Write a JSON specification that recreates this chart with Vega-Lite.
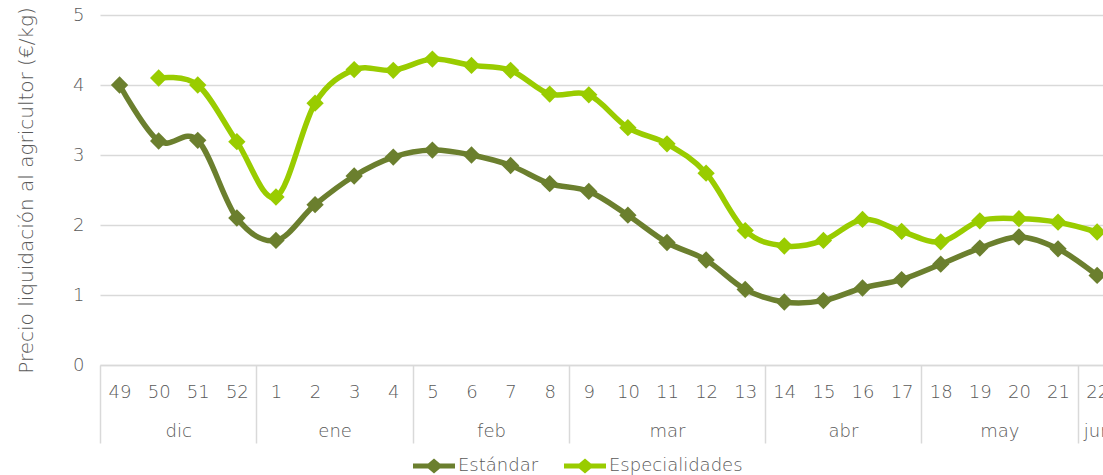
{
  "$schema": "https://vega.github.io/schema/vega-lite/v6.json",
  "autosize": {"type": "none"},
  "padding": {"left": 100, "top": 15, "right": 0, "bottom": 110},
  "width": 1003,
  "height": 350,
  "background": "white",
  "config": {
    "view": {"stroke": null},
    "font": "DejaVu Sans",
    "axis": {"labelFont": "DejaVu Sans", "titleFont": "DejaVu Sans", "labelFontWeight": 200, "titleFontWeight": 200},
    "legend": {"labelFont": "DejaVu Sans", "labelFontWeight": 200}
  },
  "data": {
    "values": [
      {"i": 0, "semana": "49", "serie": "Estándar", "precio": 4.0},
      {"i": 1, "semana": "50", "serie": "Estándar", "precio": 3.2},
      {"i": 2, "semana": "51", "serie": "Estándar", "precio": 3.21},
      {"i": 3, "semana": "52", "serie": "Estándar", "precio": 2.1},
      {"i": 4, "semana": "1", "serie": "Estándar", "precio": 1.78},
      {"i": 5, "semana": "2", "serie": "Estándar", "precio": 2.29},
      {"i": 6, "semana": "3", "serie": "Estándar", "precio": 2.7},
      {"i": 7, "semana": "4", "serie": "Estándar", "precio": 2.97},
      {"i": 8, "semana": "5", "serie": "Estándar", "precio": 3.07},
      {"i": 9, "semana": "6", "serie": "Estándar", "precio": 3.0},
      {"i": 10, "semana": "7", "serie": "Estándar", "precio": 2.85},
      {"i": 11, "semana": "8", "serie": "Estándar", "precio": 2.59},
      {"i": 12, "semana": "9", "serie": "Estándar", "precio": 2.48},
      {"i": 13, "semana": "10", "serie": "Estándar", "precio": 2.14},
      {"i": 14, "semana": "11", "serie": "Estándar", "precio": 1.75},
      {"i": 15, "semana": "12", "serie": "Estándar", "precio": 1.5},
      {"i": 16, "semana": "13", "serie": "Estándar", "precio": 1.08},
      {"i": 17, "semana": "14", "serie": "Estándar", "precio": 0.9},
      {"i": 18, "semana": "15", "serie": "Estándar", "precio": 0.92},
      {"i": 19, "semana": "16", "serie": "Estándar", "precio": 1.1},
      {"i": 20, "semana": "17", "serie": "Estándar", "precio": 1.22},
      {"i": 21, "semana": "18", "serie": "Estándar", "precio": 1.44},
      {"i": 22, "semana": "19", "serie": "Estándar", "precio": 1.67},
      {"i": 23, "semana": "20", "serie": "Estándar", "precio": 1.83},
      {"i": 24, "semana": "21", "serie": "Estándar", "precio": 1.66},
      {"i": 25, "semana": "22", "serie": "Estándar", "precio": 1.28},
      {"i": 1, "semana": "50", "serie": "Especialidades", "precio": 4.1},
      {"i": 2, "semana": "51", "serie": "Especialidades", "precio": 4.0},
      {"i": 3, "semana": "52", "serie": "Especialidades", "precio": 3.19},
      {"i": 4, "semana": "1", "serie": "Especialidades", "precio": 2.4},
      {"i": 5, "semana": "2", "serie": "Especialidades", "precio": 3.74},
      {"i": 6, "semana": "3", "serie": "Especialidades", "precio": 4.22},
      {"i": 7, "semana": "4", "serie": "Especialidades", "precio": 4.21},
      {"i": 8, "semana": "5", "serie": "Especialidades", "precio": 4.37},
      {"i": 9, "semana": "6", "serie": "Especialidades", "precio": 4.28},
      {"i": 10, "semana": "7", "serie": "Especialidades", "precio": 4.21},
      {"i": 11, "semana": "8", "serie": "Especialidades", "precio": 3.87},
      {"i": 12, "semana": "9", "serie": "Especialidades", "precio": 3.86},
      {"i": 13, "semana": "10", "serie": "Especialidades", "precio": 3.39},
      {"i": 14, "semana": "11", "serie": "Especialidades", "precio": 3.16},
      {"i": 15, "semana": "12", "serie": "Especialidades", "precio": 2.74},
      {"i": 16, "semana": "13", "serie": "Especialidades", "precio": 1.92},
      {"i": 17, "semana": "14", "serie": "Especialidades", "precio": 1.7},
      {"i": 18, "semana": "15", "serie": "Especialidades", "precio": 1.78},
      {"i": 19, "semana": "16", "serie": "Especialidades", "precio": 2.08},
      {"i": 20, "semana": "17", "serie": "Especialidades", "precio": 1.91},
      {"i": 21, "semana": "18", "serie": "Especialidades", "precio": 1.76},
      {"i": 22, "semana": "19", "serie": "Especialidades", "precio": 2.06},
      {"i": 23, "semana": "20", "serie": "Especialidades", "precio": 2.09},
      {"i": 24, "semana": "21", "serie": "Especialidades", "precio": 2.04},
      {"i": 25, "semana": "22", "serie": "Especialidades", "precio": 1.9}
    ]
  },
  "resolve": {"axis": {"x": "independent"}},
  "layer": [
    {
      "mark": {"type": "line", "interpolate": "cardinal", "tension": 0, "strokeWidth": 5.5},
      "encoding": {
        "x": {
          "field": "i", "type": "quantitative",
          "scale": {"domain": [-0.5, 25.15], "nice": false, "zero": false},
          "axis": {
            "orient": "bottom", "values": [0,1,2,3,4,5,6,7,8,9,10,11,12,13,14,15,16,17,18,19,20,21,22,23,24,25],
            "labelExpr": "datum.value < 4 ? datum.value + 49 : datum.value - 3",
            "ticks": false, "tickSize": 0, "grid": false, "title": null,
            "domain": true, "domainColor": "#d9d9d9", "domainWidth": 1.5,
            "labelFontSize": 18, "labelColor": "#595959", "labelBaseline": "middle",
            "labelPadding": 27, "labelFlush": false, "labelOverlap": false
          }
        },
        "y": {
          "field": "precio", "type": "quantitative",
          "scale": {"domain": [0, 5], "nice": false},
          "axis": {
            "values": [0,1,2,3,4,5], "grid": true, "gridColor": "#d9d9d9", "gridWidth": 1.5,
            "domain": false, "ticks": false, "labelFontSize": 18, "labelColor": "#595959",
            "labelPadding": 16, "title": "Precio liquidación al agricultor (€/kg)",
            "titleFontSize": 20, "titleColor": "#595959", "titlePadding": 36
          }
        },
        "color": {
          "field": "serie", "type": "nominal",
          "scale": {"domain": ["Estándar", "Especialidades"], "range": ["#6B7F2E", "#99CC00"]},
          "legend": {
            "orient": "none", "legendX": 313, "legendY": 430, "direction": "horizontal", "title": null,
            "symbolType": "M-1,-0.12L-0.28,-0.12L0,-0.36L0.28,-0.12L1,-0.12L1,0.12L0.28,0.12L0,0.36L-0.28,0.12L-1,0.12Z",
            "symbolSize": 1764, "symbolStrokeWidth": 0, "labelFontSize": 18, "labelColor": "#595959",
            "labelOffset": 3, "columnPadding": 25,
            "encode": {"symbols": {"update": {"fill": {"scale": "color", "field": "value"}, "opacity": {"value": 1}, "strokeWidth": {"value": 0}}}}
          }
        },
        "order": {"field": "i", "type": "quantitative"}
      }
    },
    {
      "mark": {"type": "point", "shape": "diamond", "filled": true, "size": 300, "opacity": 1},
      "encoding": {
        "x": {
          "field": "i", "type": "quantitative",
          "axis": {
            "orient": "bottom", "values": [1.5, 5.5, 9.5, 14, 18.5, 22.5, 25],
            "labelExpr": "datum.value < 3 ? 'dic' : datum.value < 7 ? 'ene' : datum.value < 11 ? 'feb' : datum.value < 16 ? 'mar' : datum.value < 20 ? 'abr' : datum.value < 24 ? 'may' : 'jun'",
            "ticks": false, "tickSize": 0, "grid": false, "domain": false, "title": null,
            "labelFontSize": 18, "labelColor": "#595959", "labelBaseline": "middle",
            "labelPadding": 66, "labelFlush": false, "labelOverlap": false
          }
        },
        "y": {
          "field": "precio", "type": "quantitative",
          "axis": {
            "values": [0,1,2,3,4,5], "grid": true, "gridColor": "#d9d9d9", "gridWidth": 1.5,
            "domain": false, "ticks": false, "labelFontSize": 18, "labelColor": "#595959",
            "labelPadding": 16, "title": "Precio liquidación al agricultor (€/kg)",
            "titleFontSize": 20, "titleColor": "#595959", "titlePadding": 36
          }
        },
        "color": {"field": "serie", "type": "nominal", "legend": null}
      }
    },
    {
      "data": {"values": [{"b": -0.5}, {"b": 3.5}, {"b": 7.5}, {"b": 11.5}, {"b": 16.5}, {"b": 20.5}, {"b": 24.5}]},
      "mark": {"type": "rule", "opacity": 0},
      "encoding": {
        "x": {
          "field": "b", "type": "quantitative",
          "axis": {
            "orient": "bottom", "values": [-0.5, 3.5, 7.5, 11.5, 16.5, 20.5, 24.5],
            "ticks": true, "tickSize": 78, "tickColor": "#d9d9d9", "tickWidth": 1.5,
            "labels": false, "domain": false, "grid": false, "title": null
          }
        }
      }
    }
  ]
}
